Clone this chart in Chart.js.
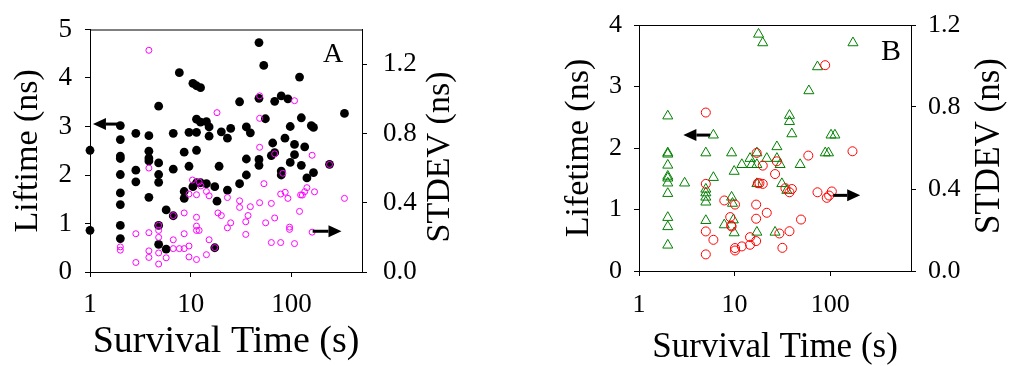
<!DOCTYPE html>
<html>
<head>
<meta charset="utf-8">
<script src="https://cdn.jsdelivr.net/npm/chart.js@4.4.0/dist/chart.umd.min.js"></script>
<style>
  html, body { margin: 0; padding: 0; background: #fff; }
  #wrap { position: relative; width: 1009px; height: 366px; }
  canvas { position: absolute; top: 0; }
  #chartA { left: 0; }
  #chartB { left: 505px; }
</style>
</head>
<body>
<div id="wrap">
  <canvas id="chartA" width="505" height="366"></canvas>
  <canvas id="chartB" width="504" height="366"></canvas>
</div>
<script>
// Panel A: lifetime (left axis, black dots) and STDEV (right axis, magenta circles)
const aLifetime = [
  [1,2.51],[1,0.86],
  [2,3.02],[2,2.73],[2,2.39],[2,2.34],[2,2.01],[2,1.63],[2,1.39],[2,0.96],[2,0.69],
  [2.85,2.86],[2.85,2.10],[2.85,1.86],
  [3.84,2.81],[3.84,2.49],[3.84,2.35],[3.84,2.29],[3.84,1.54],
  [4.8,3.42],[4.8,2.25],[4.8,2.01],[4.8,1.85],[4.8,0.96],[4.8,0.57],
  [5.7,1.28],[5.7,0.47],
  [6.7,2.86],[6.7,2.12],[6.7,1.16],
  [7.7,4.11],
  [8.6,2.47],[8.6,1.66],[8.6,1.52],
  [9.6,2.88],[9.6,2.18],
  [10.5,3.89],[10.5,1.76],
  [11.4,3.84],[11.4,3.15],[11.4,2.88],[11.4,2.51],[11.4,1.84],
  [12.5,3.80],[12.5,3.09],[12.5,1.84],
  [14.3,3.10],[14.3,1.82],
  [15.2,2.99],[15.2,2.80],
  [17.3,1.76],[17.3,0.50],
  [18.2,1.46],[19.1,2.18],[20.1,2.89],
  [23.1,2.76],[23.1,1.69],[24.9,2.96],
  [30.5,3.51],[30.5,1.82],
  [35.6,2.99],[35.6,2.33],[35.6,2.0],
  [39,2.87],
  [47.5,4.73],[47.5,3.58],[47.5,2.32],[47.5,2.20],
  [53,4.26],[55,3.16],[63,2.40],[65,2.66],[68,3.52],[68,2.46],
  [79,3.63],[79,2.08],[79,2.0],
  [86,2.76],[92,3.57],
  [97,3.0],[97,2.26],
  [107,2.63],[107,2.42],
  [120,4.02],[125,3.18],[125,2.20],[135,2.58],[142,1.94],
  [157,3.02],[165,2.98],[165,2.05],[238,2.22],[335,3.27]
];
const aStdev = [
  [3.84,1.28],
  [2,0.145],[2,0.126],
  [2.85,0.221],[2.85,0.055],
  [3.84,0.60],[3.84,0.227],[3.84,0.122],[3.84,0.084],
  [4.8,0.27],[4.8,0.24],[4.8,0.20],[4.8,0.11],[4.8,0.046],
  [5.7,0.082],
  [6.7,0.326],[6.7,0.186],[6.7,0.135],
  [7.7,0.135],
  [8.6,0.341],[8.6,0.221],[8.6,0.135],
  [9.6,0.45],[9.6,0.15],[9.6,0.087],
  [10.4,0.531],
  [11.4,0.446],[11.4,0.316],[11.4,0.265],[11.4,0.24],[11.4,0.072],
  [12.1,0.52],[12.1,0.24],[12.6,0.497],
  [14.3,0.465],[14.3,0.10],
  [15.2,0.44],[15.2,0.186],
  [17.3,0.141],
  [18.2,0.92],[18.6,0.341],[20.1,0.326],
  [23.1,0.43],[23.1,0.255],[24.9,0.284],
  [30.5,0.411],[30.5,0.373],
  [35.1,0.29],[35.1,0.217],[37,0.326],[39,0.377],
  [48.2,1.017],[48.2,0.887],[48.2,0.72],[48.2,0.40],
  [53.2,0.51],[55.3,0.284],
  [63,0.17],[63,0.396],
  [68,0.682],[68,0.312],
  [78,0.45],[78,0.17],
  [82,0.57],[86.5,0.46],[92,0.425],
  [95.5,0.259],[95.5,0.246],
  [107,0.989],[107,0.164],
  [120,0.35],[123,0.445],[128,0.444],[135,0.464],[142,0.487],
  [160,0.674],[160,0.23],[169,0.463],
  [238,0.621],[335,0.425]
];

// Panel B: lifetime (left axis, green triangles) and STDEV (right axis, red circles)
const bLifetime = [
  [2,2.52],[2,1.92],[2,1.90],[2,1.72],[2,1.54],[2,1.51],[2,1.43],[2,1.26],[2,0.87],[2,0.72],[2,0.42],
  [3,1.43],
  [5,1.92],[5,1.33],[5,1.27],[5,1.20],[5,1.12],[5,0.82],
  [6,2.21],[6,1.52],
  [7.8,0.75],
  [9.3,1.92],[9.3,1.20],[9.5,1.10],[9.7,0.83],[9.9,1.62],[9.9,0.62],
  [11.9,1.73],[14.5,1.83],[15.1,1.73],[17.1,1.73],[17.1,1.92],[17.1,1.42],[17.1,0.63],
  [17.8,3.85],[19.7,3.71],[21.7,1.83],[27.7,2.02],[27.7,1.83],[29.9,1.73],[31.2,1.42],
  [35.2,1.31],[26.5,0.63],[37.5,2.53],[37.5,2.43],[39.7,2.23],[48.5,1.73],[59.8,2.93],
  [73.6,3.32],[88.7,1.92],[96,1.92],[102,2.21],[112,2.21],[173,3.71]
];
const bStdev = [
  [5,0.773],[5,0.425],[5,0.193],[5,0.081],[6,0.152],[7.8,0.344],
  [9,0.263],[9.2,0.222],[9.3,0.217],[10.1,0.324],[10.1,0.112],[10.1,0.10],
  [11.9,0.12],[14.5,0.165],[14.5,0.128],
  [17,0.576],[17.5,0.428],[18.2,0.428],[19.7,0.425],[16.8,0.324],[16.8,0.255],[16.8,0.146],
  [19.7,0.514],[21.7,0.284],[26.5,0.473],[27.6,0.535],[29.4,0.183],[31.6,0.113],
  [34,0.404],[37.5,0.384],[39.7,0.40],[37.5,0.194],[49.5,0.251],[59,0.563],
  [73.6,0.384],[88.6,1.004],[92,0.357],[97.4,0.368],[104,0.388],[171,0.584]
];

// tick labels
const xTicks = [1, 10, 100];
const aLeftTicks = [0, 1, 2, 3, 4, 5];
const bLeftTicks = [0, 1, 2, 3, 4];
const rightTicks = [0, 0.4, 0.8, 1.2];

const serif = '"Liberation Serif", "Times New Roman", serif';
const toXY = arr => arr.map(p => ({ x: p[0], y: p[1] }));

// top frame line, right-hand title (reads bottom to top), panel letter, arrows
function decor(o) {
  return {
    id: 'decor',
    afterDraw(chart) {
      const ctx = chart.ctx;
      const a = chart.chartArea;
      const sx = chart.scales.x, sy = chart.scales.y;
      ctx.save();
      ctx.strokeStyle = '#000';
      ctx.lineWidth = 1;
      ctx.beginPath();
      ctx.moveTo(a.left, a.top + 0.5);
      ctx.lineTo(a.right, a.top + 0.5);
      ctx.stroke();

      ctx.fillStyle = '#000';
      ctx.font = o.rightTitleSize + 'px ' + serif;
      ctx.textAlign = 'center';
      ctx.textBaseline = 'middle';
      ctx.translate(o.rightTitleX, o.rightTitleY);
      ctx.rotate(-Math.PI / 2);
      ctx.fillText('STDEV (ns)', 0, 0);
      ctx.restore();

      ctx.save();
      ctx.fillStyle = '#000';
      ctx.font = o.letterSize + 'px ' + serif;
      ctx.textAlign = 'center';
      ctx.textBaseline = 'alphabetic';
      ctx.fillText(o.letter, o.letterX, o.letterY);

      ctx.strokeStyle = '#000';
      ctx.lineWidth = 3;
      o.arrows.forEach(ar => {
        const x0 = sx.getPixelForValue(ar.from[0]);
        const x1 = sx.getPixelForValue(ar.to[0]);
        const y = sy.getPixelForValue(ar.from[1]);
        const dir = Math.sign(x1 - x0);
        const head = 13;
        ctx.beginPath();
        ctx.moveTo(x0, y);
        ctx.lineTo(x1 - dir * head, y);
        ctx.stroke();
        ctx.beginPath();
        ctx.moveTo(x1, y);
        ctx.lineTo(x1 - dir * head, y - 6);
        ctx.lineTo(x1 - dir * head, y + 6);
        ctx.closePath();
        ctx.fill();
      });
      ctx.restore();
    }
  };
}

function makePanel(id, p) {
  const tickFont = { family: serif, size: p.tickSize, lineHeight: 1 };
  const grid = { drawOnChartArea: false, drawTicks: true, tickLength: 5, color: '#000' };
  const border = { color: '#000', width: 1 };
  return new Chart(document.getElementById(id), {
    type: 'scatter',
    data: { datasets: p.datasets },
    options: {
      responsive: false,
      animation: false,
      layout: { padding: { top: p.top, left: 0, right: 0, bottom: 0 } },
      plugins: { legend: { display: false }, tooltip: { enabled: false } },
      scales: {
        x: {
          type: 'logarithmic',
          min: 1,
          max: p.xMax,
          afterBuildTicks: s => { s.ticks = xTicks.map(v => ({ value: v })); },
          afterFit: s => { s.height = p.xAxisH; },
          ticks: { font: tickFont, color: '#000', padding: p.xTickPad, maxRotation: 0, callback: v => String(v) },
          grid: grid,
          border: border,
          title: {
            display: true, text: 'Survival Time (s)', color: '#000',
            font: { family: serif, size: p.xTitleSize, lineHeight: 1 },
            padding: { top: 0, bottom: p.xTitlePad }
          }
        },
        y: {
          position: 'left',
          min: 0,
          max: p.yMax,
          afterBuildTicks: s => { s.ticks = p.leftTicks.map(v => ({ value: v })); },
          afterFit: s => { s.width = p.leftW; },
          ticks: { font: tickFont, color: '#000', padding: p.leftTickPad, callback: v => String(v) },
          grid: grid,
          border: border,
          title: {
            display: true, text: p.leftTitle, color: '#000',
            font: { family: serif, size: p.leftTitleSize, lineHeight: 1 },
            padding: { top: p.leftTitlePad, bottom: 0 }
          }
        },
        y2: {
          position: 'right',
          min: 0,
          max: p.y2Max,
          afterBuildTicks: s => { s.ticks = rightTicks.map(v => ({ value: v })); },
          afterFit: s => { s.width = p.rightW; },
          ticks: { font: tickFont, color: '#000', padding: p.rightTickPad, callback: v => v.toFixed(1) },
          grid: grid,
          border: border
        }
      }
    },
    plugins: [decor(p.decor)]
  });
}

makePanel('chartA', {
  top: 27, xAxisH: 94, leftW: 90, rightW: 143,
  xMax: 500, yMax: 5, y2Max: 1.4, leftTicks: aLeftTicks,
  tickSize: 27, xTickPad: 14, leftTickPad: 13, rightTickPad: 16,
  xTitleSize: 38, xTitlePad: 5,
  leftTitle: 'Liftime (ns)', leftTitleSize: 34, leftTitlePad: 11,
  datasets: [
    { data: toXY(aStdev), yAxisID: 'y2', order: 1, clip: false,
      pointStyle: 'circle', pointRadius: 3, borderWidth: 1,
      borderColor: '#ff00ff', backgroundColor: 'rgba(0,0,0,0)' },
    { data: toXY(aLifetime), yAxisID: 'y', order: 2, clip: false,
      pointStyle: 'circle', pointRadius: 4.4, borderWidth: 0,
      borderColor: '#000', backgroundColor: '#000' }
  ],
  decor: {
    rightTitleX: 440, rightTitleY: 157, rightTitleSize: 34,
    letter: 'A', letterX: 333, letterY: 62, letterSize: 28,
    arrows: [
      { from: [1.89, 3.05], to: [1.07, 3.05] },
      { from: [162, 0.84], to: [313, 0.84] }
    ]
  }
});

makePanel('chartB', {
  top: 24, xAxisH: 95, leftW: 134, rightW: 98,
  xMax: 700, yMax: 4, y2Max: 1.2, leftTicks: bLeftTicks,
  tickSize: 26, xTickPad: 16, leftTickPad: 12, rightTickPad: 12,
  xTitleSize: 35, xTitlePad: 1,
  leftTitle: 'Lifetime (ns)', leftTitleSize: 34, leftTitlePad: 57,
  datasets: [
    { data: toXY(bStdev), yAxisID: 'y2', order: 1, clip: false,
      pointStyle: 'circle', pointRadius: 4.5, borderWidth: 1,
      borderColor: '#ff0000', backgroundColor: 'rgba(0,0,0,0)' },
    { data: toXY(bLifetime), yAxisID: 'y', order: 2, clip: false,
      pointStyle: 'triangle', pointRadius: 5.8, borderWidth: 1,
      borderColor: '#008000', backgroundColor: 'rgba(0,0,0,0)' }
  ],
  decor: {
    rightTitleX: 485, rightTitleY: 146, rightTitleSize: 35,
    letter: 'B', letterX: 386, letterY: 60, letterSize: 30,
    arrows: [
      { from: [5.54, 2.21], to: [2.91, 2.21] },
      { from: [108, 1.23], to: [206, 1.23] }
    ]
  }
});
</script>
</body>
</html>
